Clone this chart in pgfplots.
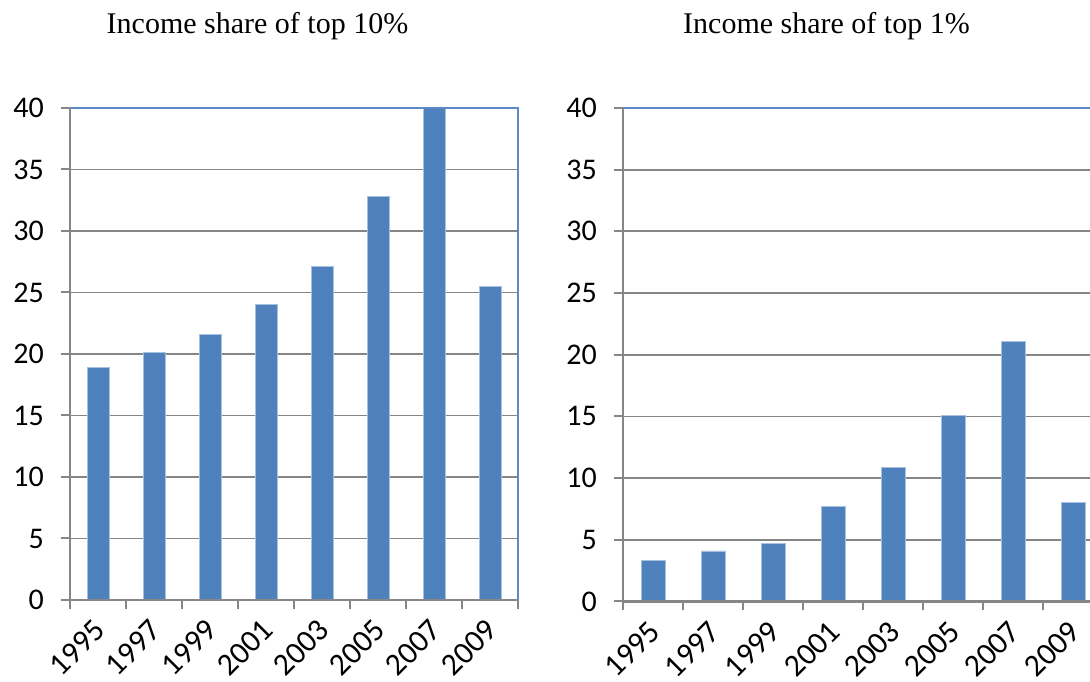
\documentclass[border=0pt]{standalone}
\usepackage{fontspec}
\setmainfont{Carlito}
\newfontfamily\titlefont{Liberation Serif}
\usepackage{pgfplots}
\pgfplotsset{compat=1.18}
\definecolor{barblue}{HTML}{4F81BD}
\definecolor{baredge}{HTML}{A7C0DE}
\definecolor{gridgray}{HTML}{868686}
\definecolor{borderblue}{HTML}{5B8AC6}

\pgfplotsset{
  incomestyle/.style={
    scale only axis, anchor=south west, clip=false,
    ybar, bar width=0.39, bar shift=0pt,
    xmin=-0.5, xmax=7.5, ymin=0, ymax=40,
    xtick={0,...,7},
    xticklabels={1995,1997,1999,2001,2003,2005,2007,2009},
    minor xtick={-0.5,0.5,...,7.5},
    ytick={0,5,...,40},
    tick pos=left,
    ymajorgrids,
    major grid style={gridgray, line width=1.8pt},
    axis line style={draw=none},
    tick align=outside,
    major tick length=9pt, minor tick length=9pt,
    every tick/.style={gridgray, line width=2pt},
    major x tick style={draw=none},
    /pgf/number format/assume math mode=true,
    ticklabel style={font=\fontsize{30}{35}\selectfont, text=black},
    yticklabel style={inner sep=0pt, xshift=-17pt},
    xticklabel style={font=\fontsize{31.5}{36}\selectfont, inner sep=0pt, xshift=2pt, yshift=-16pt, rotate=45, anchor=east},
  },
}

\begin{document}
\begin{tikzpicture}[x=1pt,y=1pt]
\begin{axis}[incomestyle, at={(70pt,82pt)}, width=448pt, height=492pt]
  \addplot[fill=barblue, draw=baredge, line width=0.8pt] coordinates {
    (0,18.9) (1,20.1) (2,21.6) (3,24.0) (4,27.1) (5,32.8) (6,40.0) (7,25.5)};
  \draw[borderblue, line width=2pt] (rel axis cs:0,1) -- (rel axis cs:1,1) -- (rel axis cs:1,0);
  \draw[gridgray, line width=2.5pt] (rel axis cs:0,1) -- (rel axis cs:0,0) -- (rel axis cs:1,0);
\end{axis}
\begin{axis}[incomestyle, at={(623pt,80.5pt)}, width=480pt, height=493.5pt, bar width=0.4]
  \addplot[fill=barblue, draw=baredge, line width=0.8pt] coordinates {
    (0,3.3) (1,4.1) (2,4.7) (3,7.7) (4,10.9) (5,15.1) (6,21.1) (7,8.0)};
  \draw[borderblue, line width=2pt] (rel axis cs:0,1) -- (rel axis cs:1,1) -- (rel axis cs:1,0);
  \draw[gridgray, line width=2.5pt] (rel axis cs:0,1) -- (rel axis cs:0,0) -- (rel axis cs:1,0);
\end{axis}
\node[font=\titlefont\fontsize{30}{36}\selectfont, anchor=base] at (257.5,648) {Income share of top 10\%};
\node[font=\titlefont\fontsize{30}{36}\selectfont, anchor=base] at (826.5,648) {Income share of top 1\%};
\pgfresetboundingbox
\path (0,0) rectangle (1090,682);
\end{tikzpicture}
\end{document}
